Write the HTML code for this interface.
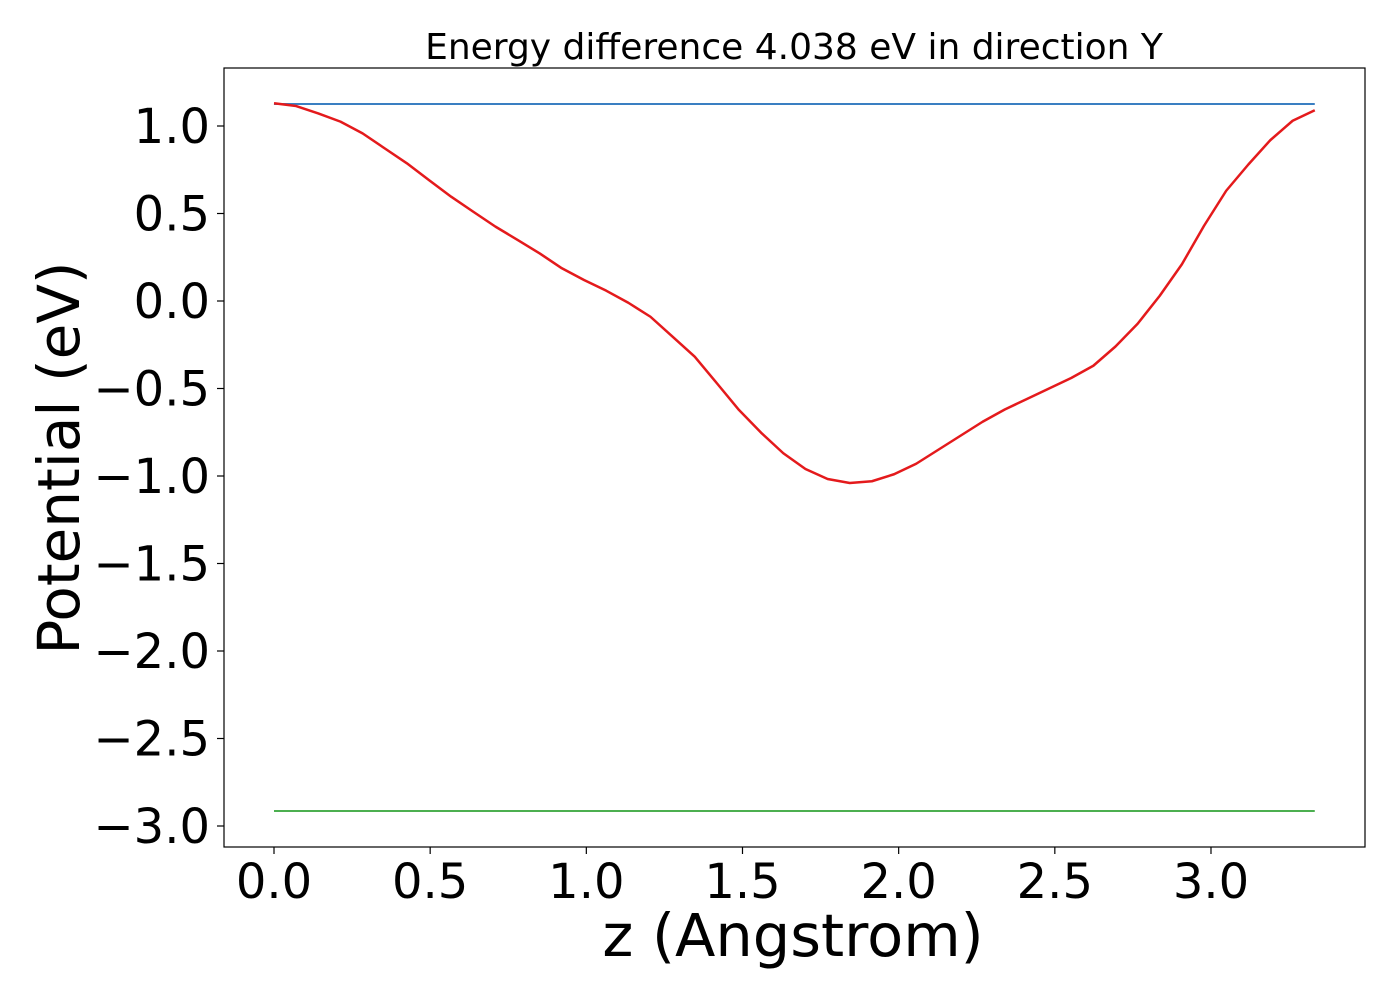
<!DOCTYPE html>
<html><head><meta charset="utf-8"><style>
html,body{margin:0;padding:0;background:#fff;}
svg{display:block;font-family:"DejaVu Sans","Liberation Sans",sans-serif;}
</style></head><body>
<svg id="chart" width="1400" height="1000"></svg>
<script>
const xStep = 0.0709;
const potential = [1.13,1.114,1.072,1.025,0.958,0.872,0.787,0.691,0.596,0.51,0.425,0.349,0.272,0.187,0.12,0.059,-0.01,-0.09,-0.204,-0.318,-0.47,-0.623,-0.753,-0.87,-0.96,-1.017,-1.04,-1.03,-0.99,-0.93,-0.85,-0.77,-0.69,-0.62,-0.56,-0.50,-0.44,-0.37,-0.26,-0.13,0.03,0.21,0.43,0.63,0.78,0.92,1.03,1.09];
const vacuumLevel = [1.126];
const fermiLevel = [-2.914];
const xTicks = [0,0.5,1.0,1.5,2.0,2.5,3.0];
const xTickLabels = ["0.0","0.5","1.0","1.5","2.0","2.5","3.0"];
const yTicks = [1.0,0.5,0.0,-0.5,-1.0,-1.5,-2.0,-2.5,-3.0];
const yTickLabels = ["1.0","0.5","0.0","\u22120.5","\u22121.0","\u22121.5","\u22122.0","\u22122.5","\u22123.0"];

const NS="http://www.w3.org/2000/svg";
const svg=document.getElementById('chart');
const L=224,R=1365,T=68,B=847;
const sx=v=>274+v*312.33;
const sy=v=>301-v*175;
function mk(tag,attrs,parent){const e=document.createElementNS(NS,tag);for(const k in attrs)e.setAttribute(k,attrs[k]);(parent||svg).appendChild(e);return e;}

const xs=potential.map((_,i)=>i*xStep);
const xMax=xs[xs.length-1];

const blue=mk('line',{x1:sx(0),x2:sx(xMax),y1:sy(vacuumLevel[0]),y2:sy(vacuumLevel[0]),stroke:'#3a7fc2','stroke-width':2});


const green=mk('line',{x1:sx(0),x2:sx(xMax),y1:sy(fermiLevel[0]),y2:sy(fermiLevel[0]),stroke:'#4caf50','stroke-width':2});


const red=mk('polyline',{points:potential.map((v,i)=>sx(xs[i])+','+sy(v)).join(' '),fill:'none',stroke:'#e41a1c','stroke-width':2.5,'stroke-linejoin':'round'});



const frame=mk('rect',{x:L,y:T,width:R-L,height:B-T,fill:'none',stroke:'#000','stroke-width':1.2});



xTicks.forEach((v,i)=>{
  const t=mk('line',{x1:sx(v),x2:sx(v),y1:B,y2:B+7,stroke:'#000','stroke-width':1.2});
  
  
  const l=mk('text',{x:sx(v),y:B+51,'text-anchor':'middle','font-size':48});
  l.textContent=xTickLabels[i];
  
  
});
yTicks.forEach((v,i)=>{
  const t=mk('line',{x1:L-7,x2:L,y1:sy(v),y2:sy(v),stroke:'#000','stroke-width':1.2});
  
  
  const l=mk('text',{x:L-14,y:sy(v)+17,'text-anchor':'end','font-size':48});
  l.textContent=yTickLabels[i];
  
  
});
const title=mk('text',{x:794,y:59,'text-anchor':'middle','font-size':36});
title.textContent='Energy difference 4.038 eV in direction Y';


const xl=mk('text',{x:793,y:956,'text-anchor':'middle','font-size':59});
xl.textContent='z (Angstrom)';


const yl=mk('text',{x:0,y:0,'text-anchor':'middle','font-size':58,transform:'translate(79,458) rotate(-90)'});
yl.textContent='Potential (eV)';


</script>
</body></html>
